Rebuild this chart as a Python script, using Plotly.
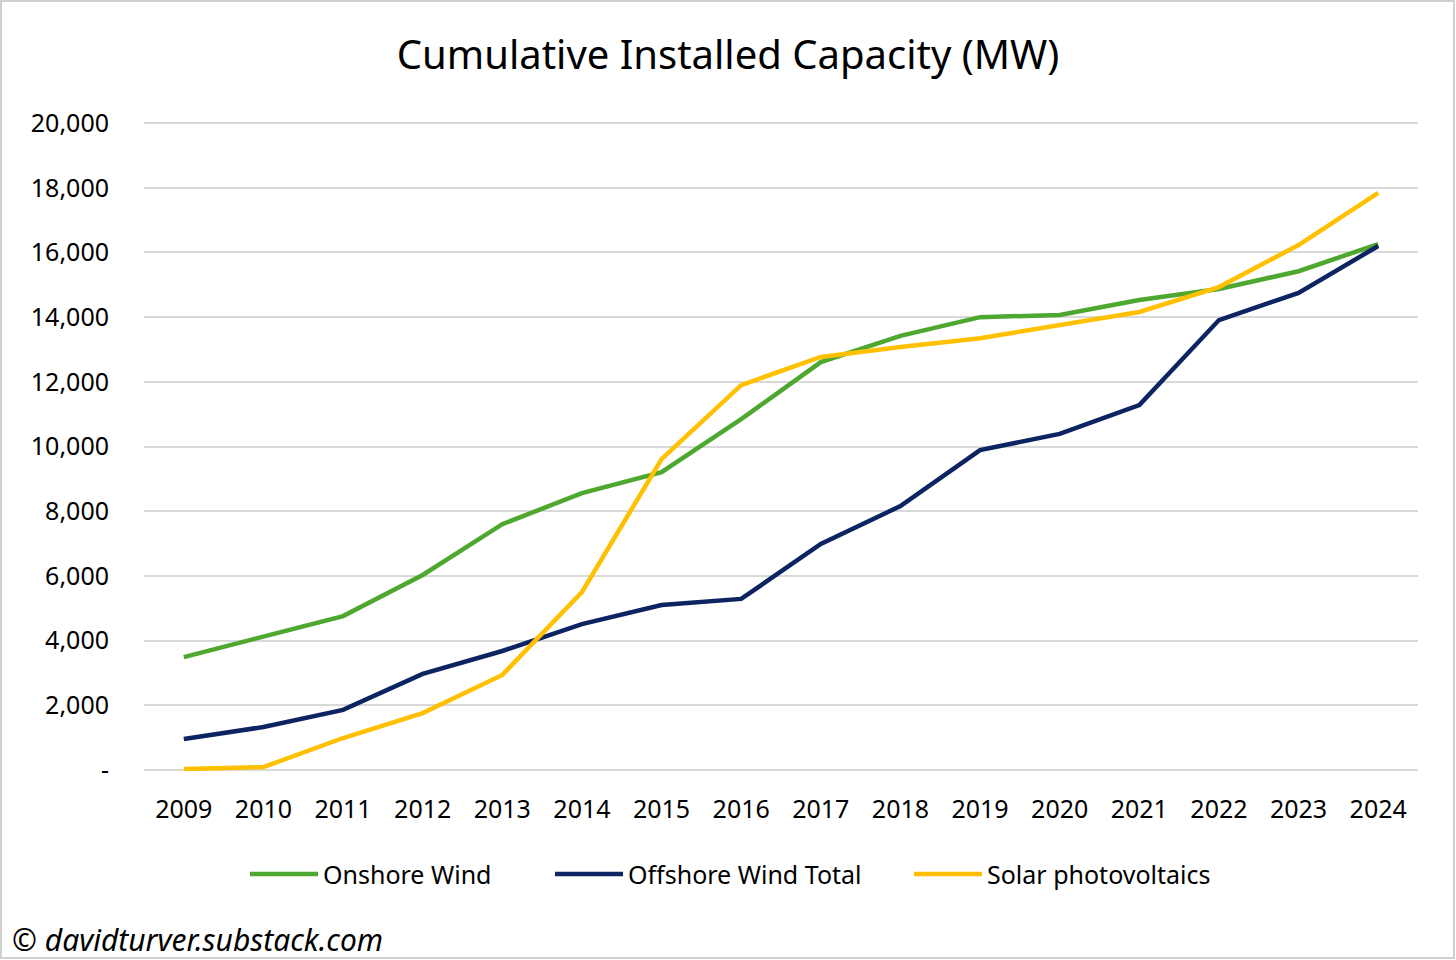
import plotly.graph_objects as go

years = list(range(2009, 2025))
onshore = [3490, 4110, 4760, 6030, 7600, 8560, 9210, 10850, 12610, 13420, 14000, 14070, 14530, 14870, 15420, 16260]
offshore = [960, 1330, 1860, 2970, 3680, 4510, 5100, 5290, 6990, 8160, 9890, 10390, 11280, 13910, 14750, 16200]
solar = [30, 90, 990, 1760, 2940, 5500, 9610, 11900, 12770, 13080, 13350, 13760, 14160, 14930, 16230, 17840]

series_names = ["Onshore Wind", "Offshore Wind Total", "Solar photovoltaics"]
series_colors = ["#4ea72e", "#0c2461", "#ffc000"]
y_tickvals = list(range(0, 20001, 2000))
y_ticktext = ["-"] + [f"{v:,}" for v in y_tickvals[1:]]

FONT = "Noto Sans"
W, H = 1456, 960
L, R, T, B = 144, 38, 115, 189
pw = W - L - R
ph = H - T - B


def px_x(px):
    return (px - L) / pw


def px_y(py):
    return (T + ph - py) / ph


fig = go.Figure()
for name, vals, col in zip(series_names, [onshore, offshore, solar], series_colors):
    fig.add_trace(go.Scatter(x=years, y=vals, name=name, mode="lines",
                             line=dict(color=col, width=4.5), showlegend=False))

fig.update_layout(
    width=W, height=H,
    margin=dict(l=L, r=R, t=T, b=B),
    paper_bgcolor="white", plot_bgcolor="white",
    font=dict(family=FONT, color="#000000", size=25),
    title=dict(text="Cumulative Installed Capacity (MW)", x=0.5, xanchor="center",
               y=1 - 55 / H, yanchor="middle",
               font=dict(family=FONT, size=40, color="#000000")),
    xaxis=dict(range=[2008.5, 2024.5], tickvals=years, ticktext=[str(y) for y in years],
               showgrid=False, zeroline=False, showline=False, ticks="",
               tickfont=dict(size=25), ticklabelstandoff=21),
    yaxis=dict(range=[-30, 20250], tickvals=y_tickvals, ticktext=y_ticktext,
               showgrid=True, gridcolor="#d9d9d9", gridwidth=1.5,
               zeroline=True, zerolinecolor="#d9d9d9", zerolinewidth=1.5,
               showline=False, ticks="", tickfont=dict(size=25), ticklabelstandoff=34),
    showlegend=False,
)

# legend drawn manually to match the original's long swatches
legend_line_px = [(250, 318), (555, 623), (914, 982)]
legend_y = 874
for (x0, x1), name, col in zip(legend_line_px, series_names, series_colors):
    fig.add_shape(type="line", xref="paper", yref="paper",
                  x0=px_x(x0), x1=px_x(x1), y0=px_y(legend_y), y1=px_y(legend_y),
                  line=dict(color=col, width=4.5))
    fig.add_annotation(text=name, xref="paper", yref="paper",
                       x=px_x(x1 + 3), xanchor="left", y=px_y(legend_y), yanchor="middle",
                       showarrow=False, font=dict(family=FONT, size=25, color="#000000"))

fig.add_annotation(text="<i>© davidturver.substack.com</i>", xref="paper", yref="paper",
                   x=px_x(10), xanchor="left", y=px_y(939), yanchor="middle",
                   showarrow=False, font=dict(family=FONT, size=30, color="#000000"))
fig.add_shape(type="rect", xref="paper", yref="paper",
              x0=px_x(1), x1=px_x(W - 2), y0=px_y(H - 2), y1=px_y(1),
              line=dict(color="#d0d0d0", width=2), layer="below")
fig.write_html("out.html", config={"displayModeBar": False},
               post_script="document.body.style.margin='0';document.body.style.overflow='hidden';")
